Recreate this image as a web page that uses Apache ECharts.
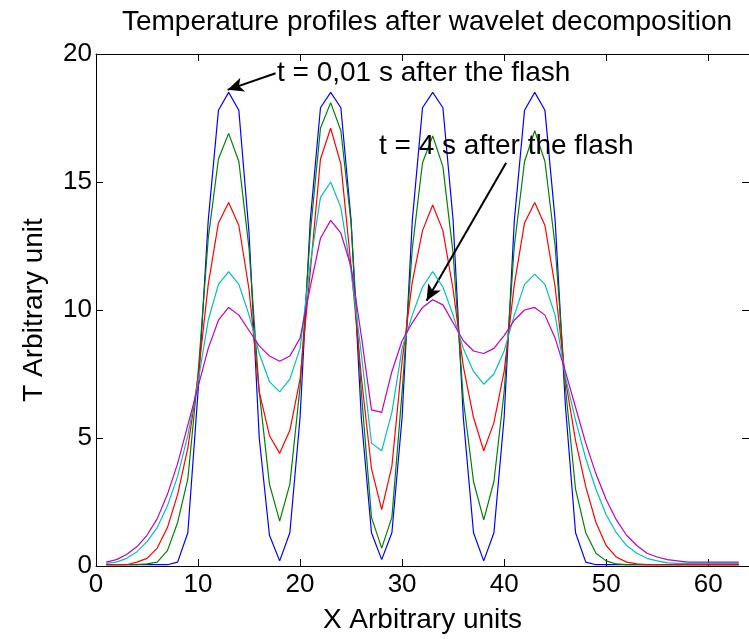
<!DOCTYPE html>
<html><head><meta charset="utf-8">
<script src="https://cdn.jsdelivr.net/npm/echarts@6/dist/echarts.min.js"></script>
<style>html,body{margin:0;padding:0;background:#fff}#c{width:749px;height:639px}</style>
</head><body><div id="c"></div>
<script>
const xs = [1,2,3,4,5,6,7,8,9,10,11,12,13,14,15,16,17,18,19,20,21,22,23,24,25,26,27,28,29,30,31,32,33,34,35,36,37,38,39,40,41,42,43,44,45,46,47,48,49,50,51,52,53,54,55,56,57,58,59,60,61,62,63];
const blue = [0.05,0.05,0.05,0.05,0.05,0.05,0.05,0.15,
  1.3,6.8,13.5,17.8,18.5,17.8,13.0,5.0,
  1.2,0.2,1.3,5.8,13.5,17.9,18.5,17.9,
  13.5,5.8,1.3,0.25,1.3,5.8,13.5,17.9,
  18.5,17.9,13.5,5.8,1.3,0.2,1.3,5.8,
  13.5,17.8,18.5,17.8,13.5,6.3,1.3,0.15,
  0.05,0.05,0.05,0.05,0.05,0.05,0.05,0.05,0.05,0.05,0.05,0.05,0.05,0.05,0.05];
const green = [0.05,0.05,0.05,0.05,0.08,0.15,0.6,1.7,
  3.4,7.5,12.8,15.9,16.9,15.8,12.4,6.8,
  3.2,1.75,3.2,7.0,13.0,17.1,18.1,17.0,
  13.4,6.8,1.9,0.7,1.9,6.8,12.4,15.75,
  16.8,15.6,12.2,6.5,3.3,1.8,3.3,6.8,
  12.5,15.8,17.0,15.8,12.5,7.0,3.0,1.3,
  0.5,0.2,0.08,0.05,0.05,0.05,0.05,0.05,0.05,0.05,0.05,0.05,0.05,0.05,0.05];
const red = [0.05,0.05,0.05,0.15,0.3,0.7,1.5,2.8,
  4.6,7.4,11.0,13.4,14.2,13.3,10.8,6.8,
  5.1,4.4,5.3,7.3,11.5,15.9,17.1,15.7,
  11.7,7.4,3.8,2.2,3.9,8.0,11.1,13.1,
  14.1,13.1,10.8,7.8,5.8,4.5,5.6,7.6,
  11.0,13.4,14.2,13.3,10.9,7.3,4.9,3.1,
  1.7,0.8,0.35,0.15,0.08,0.05,0.05,0.05,0.05,0.05,0.05,0.05,0.05,0.05,0.05];
const cyan = [0.1,0.15,0.3,0.55,0.95,1.5,2.35,3.5,
  5.1,7.2,9.6,11.0,11.5,11.0,9.8,8.3,
  7.2,6.8,7.3,8.5,11.8,14.4,15.0,14.0,
  11.5,8.3,4.8,4.5,6.0,8.5,9.8,10.9,
  11.5,10.9,9.8,8.5,7.6,7.1,7.5,8.4,
  9.8,11.0,11.4,11.0,9.8,7.4,5.7,4.2,
  3.0,2.0,1.3,0.8,0.5,0.3,0.2,0.12,0.1,0.1,0.1,0.1,0.1,0.1,0.1];
const magenta = [0.15,0.25,0.45,0.75,1.2,1.85,2.8,4.0,
  5.5,7.0,8.5,9.6,10.1,9.8,9.2,8.6,
  8.2,8.0,8.2,8.9,10.9,12.8,13.5,13.0,
  11.7,9.0,6.1,6.0,7.6,8.8,9.5,10.1,
  10.4,10.2,9.5,8.8,8.4,8.3,8.5,9.0,
  9.6,10.0,10.1,9.8,8.9,7.6,6.2,4.8,
  3.6,2.6,1.8,1.2,0.8,0.5,0.35,0.25,0.2,0.15,0.15,0.15,0.15,0.15,0.15];
const seriesNames = ['t1','t2','t3','t4','t5'];
const seriesColors = ['#0000ff','#008000','#ff0000','#00bfbf','#bf00bf'];
const titleText = 'Temperature profiles after wavelet decomposition';
const xName = 'X Arbitrary units';
const yName = 'T Arbitrary unit';
const note1 = 't = 0,01 s after the flash';
const note2 = 't = 4 s after the flash';
const arrow1 = [[17.6, 19.25], [12.9, 18.6]];
const arrow2 = [[40.2, 15.75], [32.4, 10.36]];

const FONT = '"Liberation Sans", Arial, Helvetica, sans-serif';
const chart = echarts.init(document.getElementById('c'), null, {renderer: 'canvas'});
const pairs = vals => xs.map((x, i) => [x, vals[i]]);
const allData = [blue, green, red, cyan, magenta];

const axisCommon = {
  type: 'value',
  axisLine: {show: true, onZero: false, lineStyle: {color: '#000', width: 1}},
  axisTick: {show: true, inside: true, length: 7, lineStyle: {color: '#000', width: 1}},
  splitLine: {show: false}
};

const series = allData.map((d, i) => ({
  name: seriesNames[i],
  type: 'line',
  data: pairs(d),
  showSymbol: false,
  symbol: 'none',
  lineStyle: {color: seriesColors[i], width: 1.2},
  itemStyle: {color: seriesColors[i]},
  z: 2 + i
}));
series[4].markLine = {
  silent: true,
  symbol: ['none', 'arrow'],
  symbolSize: [11, 16],
  label: {show: false},
  lineStyle: {color: '#000', width: 2, type: 'solid'},
  data: [
    [{coord: arrow1[0]}, {coord: arrow1[1]}],
    [{coord: arrow2[0]}, {coord: arrow2[1]}]
  ]
};

chart.setOption({
  animation: false,
  backgroundColor: '#ffffff',
  grid: {left: 96, top: 54, width: 656, height: 514, containLabel: false},
  xAxis: [
    Object.assign({}, axisCommon, {
      min: 0, max: 64, interval: 10, position: 'bottom',
      axisLabel: {color: '#000', fontSize: 26, fontFamily: FONT, margin: 6, showMaxLabel: false},
      name: xName, nameLocation: 'middle', nameGap: 40,
      nameTextStyle: {color: '#000', fontSize: 28, fontFamily: FONT}
    }),
    Object.assign({}, axisCommon, {
      min: 0, max: 64, interval: 10, position: 'top',
      axisLabel: {show: false}
    })
  ],
  yAxis: [
    Object.assign({}, axisCommon, {
      min: 0, max: 20, interval: 5, position: 'left',
      axisLabel: {color: '#000', fontSize: 26, fontFamily: FONT, margin: 4},
      name: yName, nameLocation: 'middle', nameGap: 48,
      nameTextStyle: {color: '#000', fontSize: 28, fontFamily: FONT}
    }),
    Object.assign({}, axisCommon, {
      min: 0, max: 20, interval: 5, position: 'right',
      axisLabel: {show: false}
    })
  ],
  graphic: [
    {type: 'text', x: 427, y: 22, z: 100, style: {text: titleText, fill: '#000', font: '28px ' + FONT, align: 'center', verticalAlign: 'middle', textAlign: 'center', textVerticalAlign: 'middle'}},
    {type: 'text', x: 277, y: 73, z: 100, style: {text: note1, fill: '#000', font: '28px ' + FONT, align: 'left', verticalAlign: 'middle', textAlign: 'left', textVerticalAlign: 'middle'}},
    {type: 'text', x: 379, y: 146, z: 100, style: {text: note2, fill: '#000', font: '28px ' + FONT, align: 'left', verticalAlign: 'middle', textAlign: 'left', textVerticalAlign: 'middle'}}
  ],
  series: series
});
</script>
</body></html>
